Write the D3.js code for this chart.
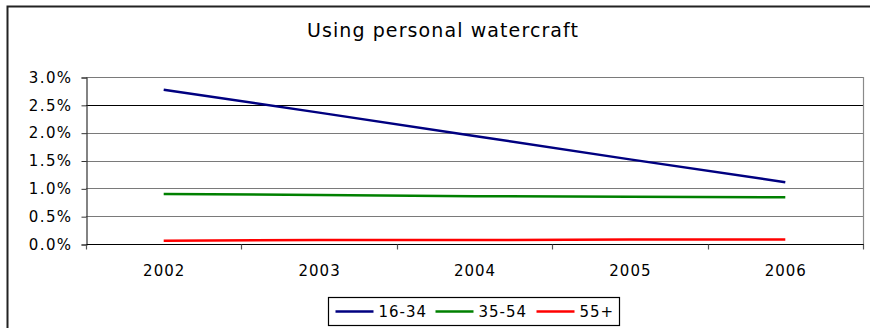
<!DOCTYPE html>
<html>
<head>
<meta charset="utf-8">
<script src="https://cdn.jsdelivr.net/npm/d3@7/dist/d3.min.js"></script>
<style>
  html, body { margin: 0; padding: 0; background: #fff; }
  svg { display: block; }
  text { font-family: "DejaVu Sans", Verdana, sans-serif; fill: #000; }
</style>
</head>
<body>
<svg id="chart" width="870" height="328"></svg>
<script>
// Share of each age group using personal watercraft, by year
const years = ["2002", "2003", "2004", "2005", "2006"];
const age16to34 = [0.0277, 0.0236, 0.0194, 0.0152, 0.0111];
const age35to54 = [0.0090, 0.0088, 0.0086, 0.0085, 0.0084];
const age55plus = [0.0006, 0.0007, 0.0007, 0.0008, 0.0008];
const seriesNames = ["16-34", "35-54", "55+"];
const seriesColors = ["#000080", "#008000", "#ff0000"];
const yTicks = [0, 0.005, 0.01, 0.015, 0.02, 0.025, 0.03];
const chartTitle = "Using personal watercraft";

const series = [age16to34, age35to54, age55plus].map((values, i) => ({
  name: seriesNames[i], color: seriesColors[i], values
}));

const svg = d3.select("#chart");

// outer chart frame
svg.append("rect")
  .attr("x", 7.5).attr("y", 6.5).attr("width", 880).attr("height", 340)
  .attr("fill", "#fff").attr("stroke", "#222").attr("stroke-width", 2);

const plot = { left: 86, right: 863, top: 77, bottom: 244 };

const x = d3.scaleBand().domain(years).range([plot.left, plot.right]);
const y = d3.scaleLinear().domain([0, 0.03]).range([plot.bottom, plot.top]);

// title
svg.append("text")
  .attr("x", 443).attr("y", 37)
  .attr("text-anchor", "middle")
  .style("font-size", "19px")
  .style("letter-spacing", "1.1px")
  .text(chartTitle);

// horizontal gridlines
svg.append("g").selectAll("line")
  .data(yTicks.filter(d => d > 0))
  .join("line")
  .attr("x1", plot.left).attr("x2", plot.right)
  .attr("y1", d => Math.round(y(d)) + 0.5).attr("y2", d => Math.round(y(d)) + 0.5)
  .attr("stroke", d => Math.abs(d - 0.025) < 1e-9 ? "#000" : "#7a7a7a")
  .attr("stroke-width", 1.2);

// right border of the plot area
svg.append("line")
  .attr("x1", plot.right + 0.5).attr("x2", plot.right + 0.5)
  .attr("y1", plot.top).attr("y2", plot.bottom)
  .attr("stroke", "#8a8a8a").attr("stroke-width", 1.2);

// y axis
const yAxis = d3.axisLeft(y)
  .tickValues(yTicks)
  .tickFormat(d3.format(".1%"))
  .tickSizeOuter(0)
  .tickSize(5)
  .tickPadding(9);
const gy = svg.append("g")
  .attr("transform", `translate(${plot.left + 0.5},0.5)`)
  .call(yAxis);
gy.select(".domain").attr("stroke", "#333").attr("stroke-width", 1.2);
gy.selectAll(".tick line").attr("stroke", "#333");
gy.selectAll(".tick text")
  .style("font-size", "15px")
  .style("letter-spacing", "1.4px")
  .attr("font-family", "DejaVu Sans, Verdana, sans-serif")
  .attr("fill", "#000");

// x axis with ticks between categories
const gx = svg.append("g")
  .attr("transform", `translate(0,${Math.round(plot.bottom) + 0.5})`);
gx.append("line")
  .attr("x1", plot.left).attr("x2", plot.right + 1)
  .attr("stroke", "#000").attr("stroke-width", 1.2);
const boundaries = years.map(d => x(d)).concat([x(years[years.length - 1]) + x.bandwidth()]);
gx.selectAll("line.tk")
  .data(boundaries)
  .join("line")
  .attr("class", "tk")
  .attr("x1", d => Math.round(d) + 0.5).attr("x2", d => Math.round(d) + 0.5)
  .attr("y1", 0).attr("y2", 5)
  .attr("stroke", "#555").attr("stroke-width", 1.2);
gx.selectAll("text")
  .data(years)
  .join("text")
  .attr("x", d => x(d) + x.bandwidth() / 2 + 0.5)
  .attr("y", 31)
  .attr("text-anchor", "middle")
  .style("font-size", "15px")
  .style("letter-spacing", "1px")
  .text(d => d);

// series lines
const line = d3.line()
  .x((d, i) => x(years[i]) + x.bandwidth() / 2)
  .y(d => y(d));
svg.append("g").selectAll("path")
  .data(series)
  .join("path")
  .attr("d", s => line(s.values))
  .attr("fill", "none")
  .attr("stroke", s => s.color)
  .attr("stroke-width", 2.5);

// legend
const legend = svg.append("g").attr("transform", "translate(328.5,297.5)");
legend.append("rect")
  .attr("width", 291).attr("height", 28)
  .attr("fill", "#fff").attr("stroke", "#000").attr("stroke-width", 1.2);
const legendX = [7, 107, 208];
const items = legend.selectAll("g.item")
  .data(series)
  .join("g")
  .attr("class", "item")
  .attr("transform", (d, i) => `translate(${legendX[i]},14)`);
items.append("line")
  .attr("x1", 0).attr("x2", 38)
  .attr("stroke", d => d.color).attr("stroke-width", 2.5);
items.append("text")
  .attr("x", 43).attr("y", 5)
  .style("font-size", "15px")
  .style("letter-spacing", "1px")
  .text(d => d.name);
</script>
</body>
</html>
